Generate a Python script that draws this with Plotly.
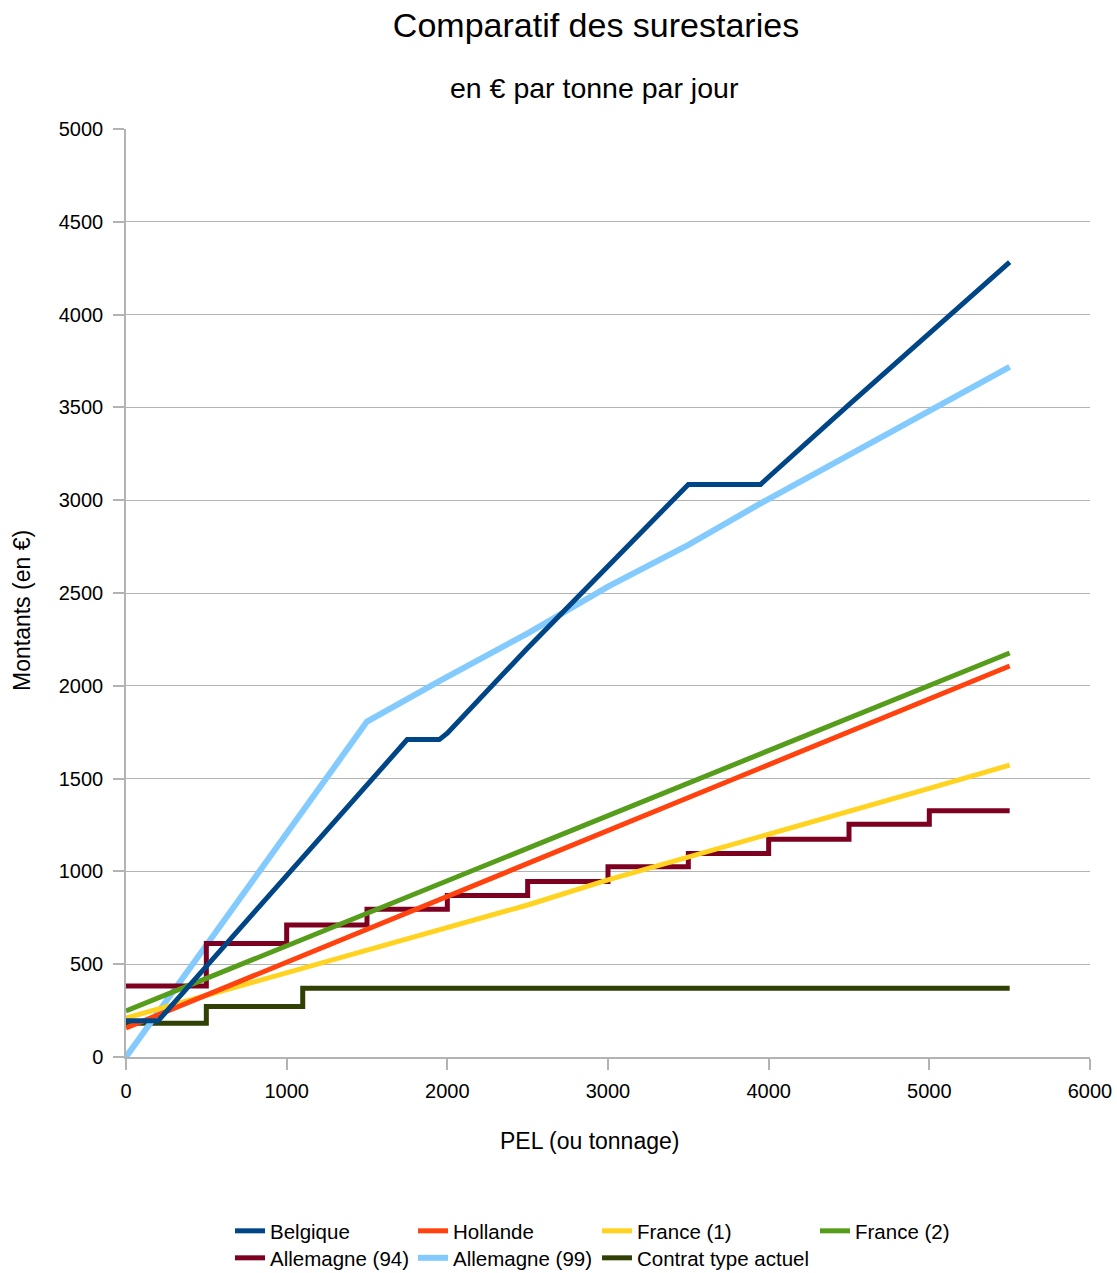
import plotly.graph_objects as go

# Tonnage breakpoints (PEL) and demurrage amounts in euros for each scheme
belgique_x = [0, 200, 500, 1000, 1100, 1500, 1750, 1950, 2000, 2500, 3000, 3500, 3950, 4000, 4500, 5000, 5500]
belgique_y = [195, 195, 488, 977, 1072, 1465, 1710, 1710, 1745, 2204, 2640, 3085, 3085, 3125, 3515, 3900, 4283]

pel_x = [0, 500, 1000, 1500, 2000, 2500, 3000, 3500, 4000, 4500, 5000, 5500]
hollande_y = [156, 333, 511, 688, 865, 1043, 1220, 1397, 1575, 1752, 1930, 2107]
france1_y = [210, 332, 453, 575, 695, 819, 954, 1076, 1200, 1322, 1447, 1573]
france2_y = [248, 423, 599, 774, 949, 1125, 1300, 1475, 1651, 1826, 2002, 2177]

allemagne94_x = [0, 500, 1000, 1500, 2000, 2500, 3000, 3500, 4000, 4500, 5000, 5500]
allemagne94_y = [382, 612, 711, 796, 870, 945, 1025, 1097, 1173, 1254, 1327, 1327]

allemagne99_x = [0, 500, 1000, 1500, 1950, 2500, 3000, 3500, 3950, 4500, 5000, 5500]
allemagne99_y = [0, 602, 1205, 1807, 2025, 2283, 2534, 2759, 2983, 3244, 3486, 3718]

contrat_x = [0, 500, 1100, 5500]
contrat_y = [182, 272, 370, 370]

series = [
    ("Belgique", belgique_x, belgique_y, "#004586", "linear", 5),
    ("Hollande", pel_x, hollande_y, "#ff420e", "linear", 5),
    ("France (1)", pel_x, france1_y, "#ffd320", "linear", 5),
    ("France (2)", pel_x, france2_y, "#579d1c", "linear", 5),
    ("Allemagne (94)", allemagne94_x, allemagne94_y, "#7e0021", "hv", 5),
    ("Allemagne (99)", allemagne99_x, allemagne99_y, "#83caff", "linear", 6),
    ("Contrat type actuel", contrat_x, contrat_y, "#314004", "hv", 5),
]

FONT = "Liberation Sans, Arial, sans-serif"
W, H = 1117, 1273
L, R, T, B = 126, 27, 129, 216
PW, PH = W - L - R, H - T - B


def px_x(p):
    return (p - L) / PW


def px_y(p):
    return (H - B - p) / PH


# legend slots: text start x (px), row centre y (px)
slots = [(270, 1231), (453, 1231), (637, 1231), (855, 1231),
         (270, 1258), (453, 1258), (637, 1258)]

fig = go.Figure()
# later series underneath, so add in reverse order
for i in reversed(range(len(series))):
    name, xs, ys, col, shape, w = series[i]
    lg = "legend" if i == 0 else f"legend{i + 1}"
    fig.add_trace(go.Scatter(
        x=xs, y=ys, name=name, mode="lines",
        line=dict(color=col, width=w, shape=shape),
        legend=lg,
    ))

layout_legends = {}
for i, (tx, ty) in enumerate(slots):
    key = "legend" if i == 0 else f"legend{i + 1}"
    layout_legends[key] = dict(
        x=px_x(tx - 40), y=px_y(ty), xanchor="left", yanchor="middle",
        orientation="h", font=dict(family=FONT, size=20.5, color="#000"),
        bgcolor="rgba(0,0,0,0)", itemwidth=30,
    )

fig.update_layout(
    width=W, height=H,
    margin=dict(l=L, r=R, t=T, b=B, autoexpand=False),
    paper_bgcolor="white", plot_bgcolor="white",
    font=dict(family=FONT, color="#000"),
    title=dict(text="Comparatif des surestaries", x=596 / W, xref="container",
               xanchor="center", y=1 - 25 / H, yanchor="middle",
               font=dict(family=FONT, size=34, color="#000")),
    showlegend=True,
    **layout_legends,
)

fig.update_xaxes(
    range=[0, 6000], tick0=0, dtick=1000, showgrid=False, zeroline=False,
    showline=True, linecolor="#b3b3b3", linewidth=1.5,
    ticks="outside", ticklen=11, tickcolor="#b3b3b3", tickwidth=1.5,
    ticklabelstandoff=4,
    tickfont=dict(family=FONT, size=20, color="#000"),
)
fig.update_yaxes(
    range=[0, 5000], tick0=0, dtick=500, showgrid=True, gridcolor="#b3b3b3",
    gridwidth=1.2, zeroline=False,
    showline=True, linecolor="#b3b3b3", linewidth=1.5,
    ticks="outside", ticklen=11, tickcolor="#b3b3b3", tickwidth=1.5,
    ticklabelstandoff=6,
    tickfont=dict(family=FONT, size=20, color="#000"),
)

fig.add_annotation(text="en € par tonne par jour", x=px_x(594), y=px_y(88),
                   xref="paper", yref="paper", showarrow=False,
                   xanchor="center", yanchor="middle",
                   font=dict(family=FONT, size=28.5, color="#000"))
fig.add_annotation(text="PEL (ou tonnage)", x=px_x(589), y=px_y(1141),
                   xref="paper", yref="paper", showarrow=False,
                   xanchor="center", yanchor="middle",
                   font=dict(family=FONT, size=23, color="#000"))
fig.add_annotation(text="Montants (en €)", x=px_x(22), y=px_y(611),
                   xref="paper", yref="paper", showarrow=False, textangle=-90,
                   xanchor="center", yanchor="middle",
                   font=dict(family=FONT, size=23, color="#000"))

fig.write_html("out.html")
